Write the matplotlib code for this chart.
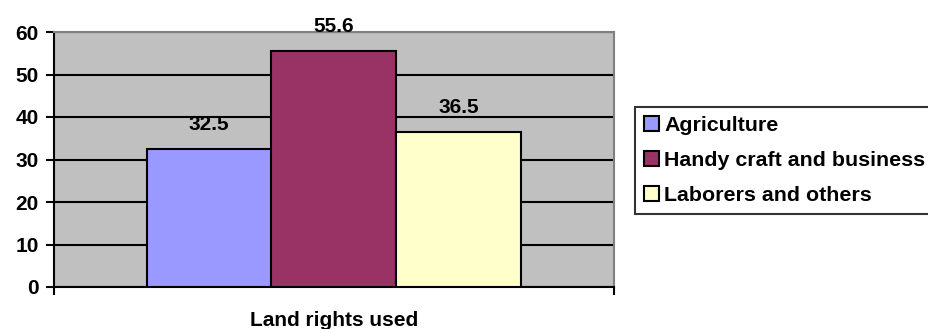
import matplotlib.pyplot as plt

plt.rcParams['font.family'] = ['Liberation Sans', 'DejaVu Sans']
plt.rcParams['font.weight'] = 'bold'

categories = ['Agriculture', 'Handy craft and business', 'Laborers and others']
values = [32.5, 55.6, 36.5]
colors = ['#9999FF', '#993366', '#FFFFCC']
xlabel = 'Land rights used'

fig = plt.figure(figsize=(9.29, 3.29), dpi=100)
ax = fig.add_axes([54 / 929, 1 - 287 / 329, 560 / 929, 255 / 329])
ax.set_facecolor('#C0C0C0')

pos = [-1, 0, 1]
for p, v, c, name in zip(pos, values, colors, categories):
    ax.bar(p, v, width=1.0, color=c, edgecolor='black', linewidth=1.5,
           label=name, zorder=3)
    ax.annotate(f'{v}', (p, v), xytext=(0, 17.3), textcoords='offset points',
                ha='center', va='center', fontsize=15, fontweight='bold')

ax.set_xlim(-2.24, 2.24)
ax.set_ylim(0, 60)
ax.set_yticks(range(0, 61, 10))
ax.set_xticks([-2.24, 2.24])
ax.set_xticklabels(['', ''])
ax.tick_params(axis='y', direction='out', length=6, width=1.5, labelsize=15, pad=5)
ax.tick_params(axis='x', direction='out', length=6, width=1.5)
ax.yaxis.grid(True, color='black', linewidth=1.5, zorder=1)
ax.set_axisbelow(True)
for s in ['left', 'bottom']:
    ax.spines[s].set_color('black')
    ax.spines[s].set_linewidth(1.5)
for s in ['top', 'right']:
    ax.spines[s].set_color('#808080')
    ax.spines[s].set_linewidth(1.5)
for lbl in ax.get_yticklabels():
    lbl.set_fontweight('bold')

fig.text(334 / 929, 1 - 320 / 329, xlabel, ha='center', va='center',
         fontsize=15, fontweight='bold')

leg = fig.legend(loc='upper left', bbox_to_anchor=(635 / 929, 1 - 107 / 329),
                 fontsize=15.4, frameon=True, fancybox=False, edgecolor='black',
                 handlelength=0.7, handleheight=0.7, handletextpad=0.25,
                 borderpad=0.42, labelspacing=0.74, borderaxespad=0)
leg.get_frame().set_linewidth(1.5)
for t in leg.get_texts():
    t.set_fontweight('bold')

fig.savefig('out.png', dpi=100)
